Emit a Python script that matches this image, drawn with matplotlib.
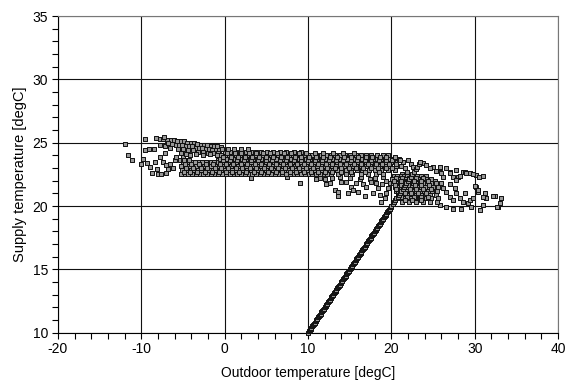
import matplotlib
matplotlib.use("Agg")
import matplotlib.pyplot as plt
from matplotlib.ticker import MultipleLocator

plt.rcParams['font.family'] = ['Liberation Sans', 'DejaVu Sans']
plt.rcParams['axes.unicode_minus'] = False

# hourly samples: outdoor temperature vs supply air temperature [degC]
# sparse cold-weather points
cold_pts = [(-12.0, 24.9), (-11.6, 24.0), (-11.1, 23.6), (-10.0, 23.3), (-9.8, 23.7),
            (-9.6, 25.3), (-9.6, 24.4), (-9.3, 23.4), (-9.1, 24.5), (-9.0, 23.1),
            (-8.7, 22.6), (-8.5, 24.5), (-8.4, 23.5), (-8.2, 25.4), (-8.1, 22.9),
            (-8.0, 22.5), (-7.8, 25.3), (-7.8, 23.9), (-7.8, 24.8), (-7.6, 22.5),
            (-7.4, 25.3), (-7.4, 23.5), (-7.2, 24.2), (-7.2, 24.7), (-7.1, 23.2),
            (-7.0, 22.6), (-6.9, 25.2), (-6.8, 22.9), (-6.6, 23.3), (-6.2, 23.0),
            (-6.0, 23.6), (-5.8, 23.9), (-7.3, 25.45), (-6.6, 24.6), (-5.2, 24.3)]

# upper slanted layer between -7 and 0 degC
upper_pts = [(-6.5, 25.25), (-6.1, 25.2), (-5.7, 25.15), (-5.3, 25.1), (-4.9, 25.1),
             (-4.5, 25.0), (-4.1, 25.0), (-3.7, 24.95), (-3.3, 24.9), (-2.9, 24.85),
             (-2.5, 24.85), (-2.1, 24.8), (-1.7, 24.75), (-1.3, 24.7), (-0.9, 24.7),
             (-0.5, 24.65), (-6.8, 24.95), (-6.3, 24.9), (-5.9, 24.85), (-5.5, 24.8),
             (-5.1, 24.8), (-4.7, 24.75), (-4.3, 24.7), (-3.9, 24.7), (-3.5, 24.6),
             (-3.1, 24.6), (-2.7, 24.55), (-2.3, 24.5), (-1.9, 24.5), (-1.5, 24.45),
             (-1.1, 24.4), (-0.7, 24.4), (-5.6, 24.5), (-5.0, 24.5), (-4.4, 24.45),
             (-3.8, 24.4), (-3.2, 24.3), (-2.6, 24.25), (-2.0, 24.2), (-1.4, 24.15),
             (-0.8, 24.15), (-5.4, 23.6), (-5.0, 23.9), (-4.6, 23.6), (-4.2, 24.0),
             (-4.6, 24.1), (-3.5, 24.1), (-2.6, 24.05), (-1.8, 24.1), (-0.8, 23.6),
             (-0.6, 23.9), (-0.3, 23.5), (-0.9, 24.0), (-5.2, 24.2), (-3.9, 23.5),
             (-2.2, 23.45), (-1.4, 23.5)]

# main band, one list of outdoor temperatures per supply level
band_levels = [22.55, 22.85, 23.15, 23.45, 23.75, 24.05, 24.3, 24.5,
               22.7, 23.0, 23.3, 23.6, 23.9, 24.18]
band_rows = [
    [-5.3, -4.8, -4.4, -3.9, -3.5, -3.0, -2.6, -2.1, -1.7, -1.2, -0.8, -0.3, 0.2, 0.6,
     1.1, 1.5, 2.0, 2.4, 2.9, 3.3, 3.8, 4.2, 4.7, 5.1, 5.6, 6.0, 6.5, 6.9, 7.4, 7.8,
     8.3, 8.7, 9.2, 9.6, 10.1, 10.5, 11.0, 11.4, 11.9, 12.3, 12.8, 13.6, 14.5, 15.3,
     16.4, 17.2, 18.1, 19.0],
    [-5.1, -4.6, -4.1, -3.7, -3.2, -2.8, -2.3, -1.9, -1.4, -1.0, -0.5, 0.0, 0.4, 0.9,
     1.3, 1.8, 2.2, 2.7, 3.1, 3.6, 4.0, 4.5, 4.9, 5.4, 5.8, 6.3, 6.7, 7.2, 7.6, 8.1,
     8.5, 9.0, 9.4, 9.9, 10.3, 10.8, 11.2, 11.7, 12.1, 12.6, 13.0, 13.5, 14.1, 14.6,
     15.2, 15.9, 16.5, 17.3, 18.0, 18.8, 19.6, 20.4],
    [-5.2, -4.7, -4.3, -3.8, -3.4, -2.9, -2.5, -2.0, -1.6, -1.1, -0.7, -0.2, 0.3, 0.7,
     1.2, 1.6, 2.1, 2.5, 3.0, 3.4, 3.9, 4.3, 4.8, 5.2, 5.7, 6.1, 6.6, 7.0, 7.5, 7.9,
     8.4, 8.8, 9.3, 9.7, 10.2, 10.6, 11.1, 11.5, 12.0, 12.4, 12.9, 13.3, 13.8, 14.3,
     14.8, 15.3, 15.8, 16.3, 16.9, 17.4, 18.0, 18.6, 19.2, 19.8, 20.5, 21.2],
    [-5.0, -4.5, -4.1, -3.6, -3.1, -2.7, -2.2, -1.7, -1.3, -0.8, -0.3, 0.2, 0.5, 0.9,
     1.4, 1.8, 2.3, 2.7, 3.2, 3.6, 4.1, 4.5, 5.0, 5.4, 5.9, 6.3, 6.8, 7.2, 7.7, 8.1,
     8.6, 9.0, 9.5, 9.9, 10.4, 10.8, 11.3, 11.7, 12.2, 12.6, 13.1, 13.5, 14.0, 14.5,
     15.0, 15.5, 16.0, 16.5, 17.0, 17.6, 18.2, 18.7, 19.3, 19.9, 20.6, 21.4],
    [-0.6, -0.1, 0.3, 0.8, 1.2, 1.7, 2.1, 2.6, 3.0, 3.5, 3.9, 4.4, 4.8, 5.3, 5.7, 6.2,
     6.6, 7.1, 7.5, 8.0, 8.4, 8.9, 9.3, 9.8, 10.2, 10.7, 11.1, 11.6, 12.0, 12.5, 12.9,
     13.4, 13.8, 14.3, 14.7, 15.2, 15.6, 16.1, 16.5, 17.0, 17.4, 17.9, 18.3, 18.8,
     19.2, 19.7, 20.2, 20.9],
    [-0.4, 0.1, 0.5, 1.0, 1.4, 1.9, 2.3, 2.8, 3.2, 3.7, 4.1, 4.6, 5.0, 5.5, 5.9, 6.4,
     6.8, 7.3, 7.7, 8.2, 8.6, 9.1, 9.5, 10.0, 10.5, 11.0, 11.5, 12.1, 12.7, 13.2, 13.8,
     14.4, 15.0, 15.7, 16.3, 17.0, 17.6, 18.3, 19.0, 19.6],
    [0.0, 0.6, 1.2, 1.8, 2.5, 3.1, 3.8, 4.4, 5.1, 5.8, 6.6, 7.4, 8.3, 9.2],
    [-0.3, 0.4, 1.1, 1.9, 2.8],
    [-4.9, -4.2, -3.3, -2.4, -1.5, -0.7, 0.1, 0.9, 1.7, 2.6, 3.5, 4.3, 5.2, 6.1, 6.9,
     7.8, 8.6, 9.5, 10.3, 11.2, 12.0, 12.9, 13.9, 15.1, 16.8, 18.5],
    [-4.6, -3.8, -2.9, -2.1, -1.2, -0.4, 0.4, 1.3, 2.1, 3.0, 3.8, 4.7, 5.5, 6.4, 7.2,
     8.1, 8.9, 9.8, 10.6, 11.5, 12.3, 13.2, 14.0, 14.9, 15.8, 16.6, 17.5, 18.4, 19.3,
     20.1],
    [-4.8, -4.0, -3.1, -2.3, -1.4, -0.6, 0.2, 1.0, 1.9, 2.7, 3.6, 4.4, 5.3, 6.1, 7.0,
     7.8, 8.7, 9.5, 10.4, 11.2, 12.1, 12.9, 13.8, 14.6, 15.5, 16.3, 17.2, 18.1, 18.9,
     19.7, 20.6],
    [-4.9, -4.3, -0.2, 0.6, 1.5, 2.3, 3.2, 4.0, 4.9, 5.7, 6.6, 7.4, 8.3, 9.1, 10.0,
     10.8, 11.7, 12.5, 13.4, 14.2, 15.1, 15.9, 16.8, 17.6, 18.5, 19.3, 20.1, 21.0],
    [-0.2, 0.7, 1.6, 2.4, 3.3, 4.1, 5.0, 5.8, 6.7, 7.5, 8.4, 9.2, 10.1, 10.9, 11.8,
     12.6, 13.5, 14.3, 15.2, 16.0, 16.9, 17.7, 18.6, 19.4, 20.4],
    [0.3, 1.2, 2.0, 2.9, 3.7, 4.6, 5.4, 6.3, 7.1, 8.0, 8.9, 9.8, 10.8, 11.8, 13.0,
     14.2, 15.5],
]

# cluster just above 20 degC outdoor, one list per supply level
warm_levels = [22.4, 22.1, 21.8, 21.5, 21.2, 20.9, 20.6, 20.3,
               22.25, 21.95, 21.65, 21.35, 21.05, 20.75, 20.45]
warm_rows = [
    [20.3, 20.7, 21.1, 21.5, 21.9, 22.3, 22.7, 23.1, 23.6, 24.1],
    [20.1, 20.5, 20.9, 21.3, 21.7, 22.1, 22.5, 22.9, 23.3, 23.7, 24.2, 24.7],
    [20.2, 20.6, 21.0, 21.4, 21.8, 22.2, 22.6, 23.0, 23.4, 23.8, 24.3, 24.8, 25.3],
    [20.4, 20.8, 21.2, 21.6, 22.0, 22.4, 22.8, 23.2, 23.6, 24.0, 24.5, 25.0, 25.6],
    [20.6, 21.0, 21.4, 21.8, 22.2, 22.6, 23.0, 23.4, 23.9, 24.4, 24.9, 25.5],
    [20.8, 21.3, 21.7, 22.1, 22.5, 23.0, 23.5, 24.0, 24.6, 25.3],
    [21.0, 21.6, 22.2, 22.8, 23.4, 24.1, 24.8, 25.6],
    [21.3, 22.1, 22.9, 23.8, 24.6, 25.5],
    [20.5, 21.3, 22.1, 22.9, 23.8],
    [20.3, 21.1, 21.9, 22.7, 23.5, 24.4],
    [20.4, 21.2, 22.0, 22.8, 23.6, 24.5],
    [20.6, 21.4, 22.2, 23.0, 23.8, 24.7],
    [20.8, 21.6, 22.4, 23.2, 24.1],
    [21.1, 21.9, 22.7, 23.6, 24.4],
    [21.6, 22.5, 23.5],
]

# scattered points below the band and in the warm tail
loose_pts = [(9.0, 21.8), (11.0, 22.1), (11.4, 22.2), (12.0, 22.1), (12.2, 21.7),
             (12.6, 21.8), (13.2, 21.3), (13.6, 21.1), (13.6, 20.8), (14.0, 21.9),
             (14.6, 21.9), (14.8, 21.0), (15.2, 21.5), (15.4, 21.3), (15.8, 21.8),
             (16.0, 21.1), (16.2, 22.1), (16.6, 21.7), (16.8, 20.8), (17.0, 21.5),
             (17.4, 22.1), (17.8, 21.0), (18.2, 21.8), (18.4, 21.4), (18.6, 20.9),
             (18.8, 20.3), (19.0, 22.3), (19.2, 20.6), (19.4, 21.0), (19.8, 21.8),
             (19.6, 21.4), (18.9, 21.7), (17.6, 21.9), (16.4, 22.3), (15.0, 22.2),
             (13.8, 22.3), (12.9, 22.2), (19.3, 22.0), (18.0, 22.2), (7.5, 22.3),
             (3.2, 22.2), (21.6, 23.0), (21.9, 22.7), (22.3, 23.3), (21.3, 22.5),
             (22.0, 23.6)]
tail_pts = [(23.8, 23.4), (25.0, 23.1), (25.8, 23.0), (26.0, 22.6), (27.0, 22.7),
            (27.8, 22.85), (28.0, 22.3), (28.6, 22.7), (29.4, 22.6), (30.2, 22.45),
            (31.0, 22.4), (30.1, 21.5), (30.4, 21.1), (31.2, 21.0), (31.4, 20.6),
            (31.0, 20.1), (30.6, 19.7), (32.4, 20.8), (33.2, 20.6), (33.0, 20.2),
            (32.8, 19.9), (28.8, 22.7), (29.8, 22.5), (30.5, 22.3), (30.0, 21.6),
            (30.4, 21.3), (31.0, 20.7), (32.2, 20.8), (32.7, 19.9), (27.8, 21.0),
            (28.2, 20.6), (28.6, 20.3), (28.4, 19.8), (27.4, 19.8), (26.6, 19.95),
            (25.8, 20.1), (29.2, 20.2), (29.4, 20.5), (29.8, 20.6), (29.6, 19.95),
            (27.0, 21.7), (27.6, 21.4), (26.2, 21.4), (26.6, 21.1), (27.0, 20.7),
            (27.4, 20.5), (28.8, 21.0), (22.6, 23.1), (23.4, 23.4), (24.6, 23.0),
            (25.8, 23.1), (26.6, 23.0), (27.0, 22.6), (27.4, 22.3), (27.8, 22.05),
            (28.2, 22.4), (29.0, 22.6), (24.2, 23.2), (25.4, 22.8), (26.2, 22.3),
            (25.2, 22.0), (26.0, 21.8)]

# hours where supply follows outdoor temperature (free cooling)
follow_t = [10.0, 10.1, 10.2, 10.3, 10.4, 10.5, 10.6, 10.7, 10.8, 10.9, 11.0, 11.1,
            11.2, 11.3, 11.4, 11.5, 11.6, 11.7, 11.8, 11.9, 12.0, 12.1, 12.2, 12.3,
            12.4, 12.5, 12.6, 12.7, 12.8, 12.9, 13.0, 13.1, 13.2, 13.3, 13.4, 13.5,
            13.6, 13.7, 13.8, 13.9, 14.0, 14.1, 14.2, 14.3, 14.4, 14.5, 14.6, 14.7,
            14.8, 14.9, 15.0, 15.1, 15.2, 15.3, 15.4, 15.5, 15.6, 15.7, 15.8, 15.9,
            16.0, 16.1, 16.2, 16.3, 16.4, 16.5, 16.6, 16.7, 16.8, 16.9, 17.0, 17.1,
            17.2, 17.3, 17.4, 17.5, 17.6, 17.7, 17.8, 17.9, 18.0, 18.1, 18.2, 18.3,
            18.4, 18.5, 18.6, 18.7, 18.8, 18.9, 19.0, 19.1, 19.2, 19.3, 19.4, 19.5,
            19.6, 19.7, 19.8, 19.9, 20.0, 20.15, 20.3, 20.45, 20.6, 20.75, 20.9, 21.05,
            21.2, 21.35, 21.5, 21.65, 21.8, 21.95, 22.1, 22.3, 22.5, 22.7, 22.9, 23.1,
            23.3, 23.45]

xs, ys = [], []
for x, y in cold_pts + upper_pts + loose_pts + tail_pts:
    xs.append(x)
    ys.append(y)
for level, row in zip(band_levels, band_rows):
    xs += row
    ys += [level] * len(row)
for level, row in zip(warm_levels, warm_rows):
    xs += row
    ys += [level] * len(row)
xs += follow_t
ys += follow_t

fig = plt.figure(figsize=(5.66, 3.81), dpi=100)
ax = fig.add_axes([58 / 566, 48.3 / 381, 500 / 566, 316.7 / 381])

ax.scatter(xs, ys, marker='s', s=10, facecolor='#989898', edgecolor='#101010',
           linewidths=0.7, zorder=3, clip_on=False)

ax.set_xlim(-20, 40)
ax.set_ylim(10, 35)
ax.xaxis.set_major_locator(MultipleLocator(10))
ax.xaxis.set_minor_locator(MultipleLocator(2))
ax.yaxis.set_major_locator(MultipleLocator(5))
ax.yaxis.set_minor_locator(MultipleLocator(1))
ax.set_axisbelow(True)
ax.grid(which='major', color='#111111', linewidth=0.8)

for side in ['left', 'bottom']:
    ax.spines[side].set_color('black')
    ax.spines[side].set_linewidth(0.8)
for side in ['top', 'right']:
    ax.spines[side].set_color('#777777')
    ax.spines[side].set_linewidth(0.8)

ax.tick_params(which='both', direction='out', length=4, width=0.8, color='black',
               top=False, right=False, labelsize=10)
ax.tick_params(which='major', pad=3)

ax.set_xlabel('Outdoor temperature [degC]', fontsize=10, labelpad=7)
ax.set_ylabel('Supply temperature [degC]', fontsize=10.5, labelpad=4)

fig.savefig('out.png', dpi=100)
